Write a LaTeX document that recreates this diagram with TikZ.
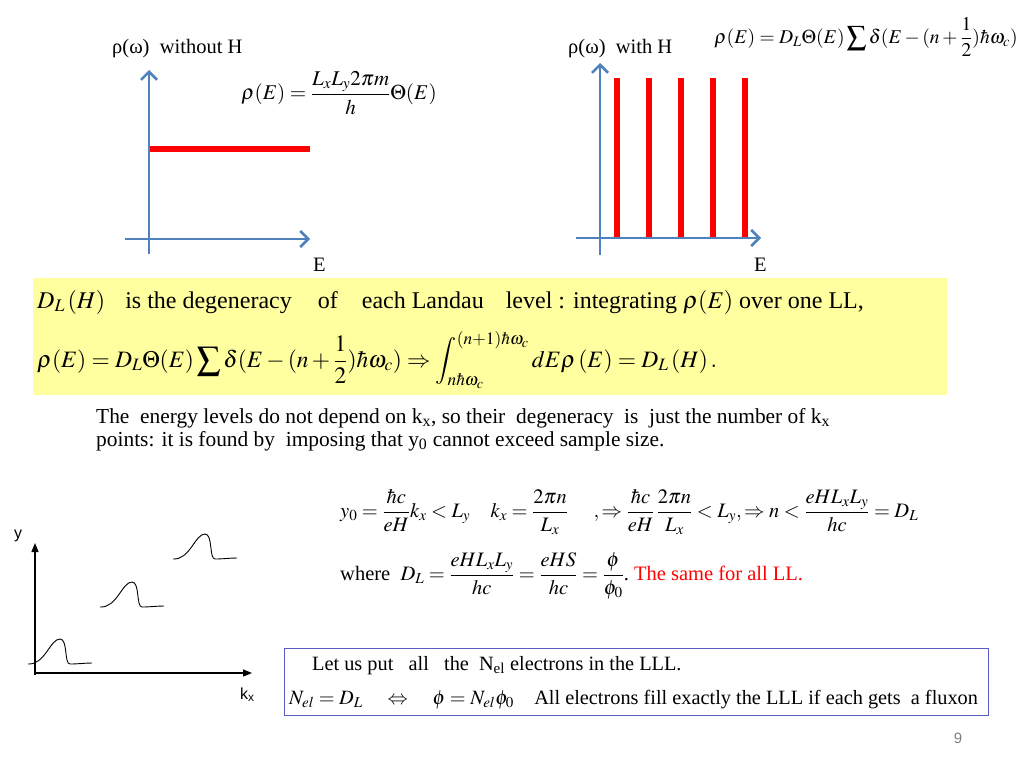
\documentclass[tikz,border=0pt]{standalone}
\usepackage{amsmath}
\usepackage{mathptmx}
\usepackage{fontspec}
\setmainfont{Liberation Serif}
\setsansfont{Liberation Sans}
\usetikzlibrary{arrows.meta}

\definecolor{axisblue}{RGB}{79,129,189}
\definecolor{notefill}{RGB}{255,255,160}
\definecolor{boxblue}{RGB}{90,90,200}

\newcommand{\wavepacket}[1]{%
  \draw[packet,shift={#1}] (0,0) .. controls (17,1) and (22,-25) .. (32,-25)
    .. controls (40,-25) and (36,0) .. (42,0) .. controls (50,0) and (57,-1) .. (64,-1);}

\begin{document}
\begin{tikzpicture}[x=1pt,y=-1pt,
      baxis/.style={draw=axisblue, line width=2.5pt, -{Straight Barb[length=8pt,width=16pt]}},
      kaxis/.style={draw=black, line width=1.3pt, -{Triangle[length=9pt,width=7pt]}},
      level/.style={draw=red, line width=6pt},
      packet/.style={draw=black, line width=0.9pt},
      label/.style={inner sep=0pt, font=\fontsize{20.5}{24}\selectfont},
      big/.style={inner sep=0pt, font=\fontsize{24}{28}\selectfont},
      body/.style={inner sep=0pt, font=\fontsize{21.4}{24}\selectfont},
      eqn/.style={inner sep=0pt, font=\fontsize{20.5}{24}\selectfont},
      boxtext/.style={inner sep=0pt, font=\fontsize{20.3}{24}\selectfont}]

    \useasboundingbox[fill=white] (0,0) rectangle (1024,768);

    % density of states without field
    \coordinate (ly0) at (149,254);
    \coordinate (ly1) at (149,70);
    \coordinate (lx0) at (125,239);
    \coordinate (lx1) at (310,239);
    \coordinate (lv0) at (149,149);
    \coordinate (lv1) at (310,149);
    \draw[level] (lv0) -- (lv1);
    \draw[baxis] (ly0) -- (ly1);
    \draw[baxis] (lx0) -- (lx1);
    \node[label, anchor=base west] (lt) at (112,54) {ρ(ω)\ \ without H};
    \node[label, anchor=base west] (le) at (313,271) {E};
    \node[label, font=\fontsize{21}{24}\selectfont] (lf) at (339,93) {$\rho(E)=\dfrac{L_xL_y2\pi m}{h}\Theta(E)$};

    % density of states with field
    \foreach \x in {617,649,681,713,745}
      \draw[level] (\x,78) -- (\x,238);
    \coordinate (ry0) at (600,255);
    \coordinate (ry1) at (600,63);
    \coordinate (rx0) at (576,238);
    \coordinate (rx1) at (761,238);
    \draw[baxis] (ry0) -- (ry1);
    \draw[baxis] (rx0) -- (rx1);
    \node[label, anchor=base west] (rt) at (568,54) {ρ(ω)\ \ with H};
    \node[label, anchor=base west] (re) at (754,271) {E};
    \node[label, font=\fontsize{19.5}{24}\selectfont] (rf) at (866,37) {$\displaystyle\rho(E)=D_L\Theta(E)\sum\delta(E-(n+\frac{1}{2})\hbar\omega_c)$};

    % degeneracy box
    \node[fill=notefill, minimum width=914pt, minimum height=117pt, anchor=north west, inner sep=0pt] (note) at (33,278) {};
    \node[big, anchor=base west] (n1) at (37,308) {$D_L\left(H\right)$\hspace{20pt}is the degeneracy\hspace{26pt}of\hspace{24pt}each Landau\hspace{22pt}level : integrating $\rho(E)$ over one LL,};
    \node[big, anchor=west, font=\fontsize{23.5}{28}\selectfont] (n2) at (37,360) {$\displaystyle\rho(E)=D_L\Theta(E)\sum\delta(E-(n+\frac{1}{2})\hbar\omega_c)\Rightarrow\int_{n\hbar\omega_c}^{(n+1)\hbar\omega_c}dE\rho\left(E\right)=D_L\left(H\right).$};

    % counting the kx points
    \node[body, anchor=base west] (p1) at (96,423) {The\ \ energy levels do not depend on k\textsubscript{x}, so their\ \ degeneracy\ \ is\ \ just the number of k\textsubscript{x}};
    \node[body, anchor=base west] (p2) at (96,446) {points: it is found by\ \ imposing that y\textsubscript{0} cannot exceed sample size.};
    \node[eqn, anchor=west] (e1) at (340,512) {$y_0=\dfrac{\hbar c}{eH}k_x<L_y\quad k_x=\dfrac{2\pi n}{L_x}\quad\ ,\Rightarrow\dfrac{\hbar c}{eH}\,\dfrac{2\pi n}{L_x}<L_y,\Rightarrow n<\dfrac{eHL_xL_y}{hc}=D_L$};
    \node[eqn, anchor=west] (e2) at (340,576) {where\ \ $D_L=\dfrac{eHL_xL_y}{hc}=\dfrac{eHS}{hc}=\dfrac{\phi}{\phi_0}$.\ \textcolor{red}{The same for all LL.}};

    % wave packets along kx
    \coordinate (ko) at (35,673);
    \coordinate (ky) at (35,543);
    \coordinate (kx) at (252,673);
    \draw[kaxis] (35,675) -- (ky);
    \draw[kaxis] (ko) -- (kx);
    \node[label, font=\sffamily\fontsize{16}{18}\selectfont, anchor=base] (ty) at (18,538) {y};
    \node[label, font=\sffamily\fontsize{16}{18}\selectfont, anchor=base west] (tk) at (240,699) {k\textsubscript{x}};
    \wavepacket{(28,664)}
    \wavepacket{(100,607)}
    \wavepacket{(173,559)}

    % filling the lowest level
    \node[draw=boxblue, line width=1.2pt, minimum width=704pt, minimum height=67pt, anchor=north west, inner sep=0pt] (fill) at (284,648) {};
    \node[boxtext, anchor=base west] (f1) at (312,670) {Let us put\ \ \ all\ \ \ the\ \ N\textsubscript{el} electrons in the LLL.};
    \node[boxtext, anchor=base west] (f2) at (289,704) {$N_{el}=D_L\quad\Leftrightarrow\quad\phi=N_{el}\phi_0$\quad All electrons fill exactly the LLL if each gets\ \ a fluxon};

    \node[label, font=\sffamily\fontsize{15}{18}\selectfont, text=gray, anchor=base] (pg) at (958,743) {9};

  \end{tikzpicture}
\end{document}
